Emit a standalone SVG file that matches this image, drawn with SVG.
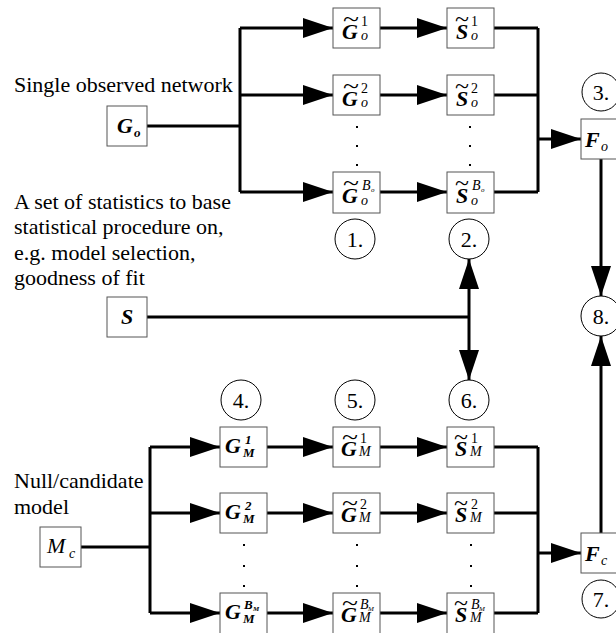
<svg xmlns="http://www.w3.org/2000/svg" width="616" height="633" viewBox="0 0 616 633">
<style>
.box{fill:#fff;stroke:#555;stroke-width:1}
.ln{fill:none;stroke:#000;stroke-width:3}
.cir{fill:#fff;stroke:#000;stroke-width:1}
.t{font-family:"Liberation Serif","Times New Roman",serif;font-size:22px;fill:#000}
.ct{font-family:"Liberation Serif","Times New Roman",serif;font-size:22px;fill:#000;text-anchor:middle}
.m{font-family:"Liberation Serif","Times New Roman",serif;font-size:22px;font-weight:bold;font-style:italic;fill:#000}
.mi{font-family:"Liberation Serif","Times New Roman",serif;font-size:22px;font-weight:normal;font-style:italic;fill:#000}
.sup{font-size:14px;font-weight:normal;font-style:normal}
.supb{font-size:13px;font-weight:bold;font-style:italic}
.sub{font-size:14px;font-weight:normal;font-style:italic}
.subb{font-size:13px;font-weight:bold;font-style:italic}
.tiny{font-size:7px;font-weight:normal;font-style:italic}
.tinyb{font-size:7px;font-weight:bold;font-style:italic}
.tl{font-size:22px;font-weight:normal;font-style:normal}
.dot{fill:#000}
</style>
<defs>
<marker id="ah" markerUnits="userSpaceOnUse" markerWidth="30" markerHeight="20" refX="30" refY="10" orient="auto">
<path d="M0,0 L30,10 L0,20 z" fill="#000"/>
</marker>
</defs>

<g id="labels">
<text class="t" x="14" y="92">Single observed network</text>
<text class="t" x="14" y="209">A set of statistics to base</text>
<text class="t" x="14" y="234">statistical procedure on,</text>
<text class="t" x="14" y="260">e.g. model selection,</text>
<text class="t" x="14" y="285">goodness of fit</text>
<text class="t" x="14" y="488">Null/candidate</text>
<text class="t" x="14" y="514">model</text>
</g>

<g id="connectors">
<path class="ln" d="M147,126 H240 M240,28 V192"/>
<path class="ln" d="M240,28 H333" marker-end="url(#ah)"/>
<path class="ln" d="M240,95 H333" marker-end="url(#ah)"/>
<path class="ln" d="M240,192 H333" marker-end="url(#ah)"/>
<path class="ln" d="M380,28 H447" marker-end="url(#ah)"/>
<path class="ln" d="M380,95 H447" marker-end="url(#ah)"/>
<path class="ln" d="M380,192 H447" marker-end="url(#ah)"/>
<path class="ln" d="M494,28 H538 M494,95 H538 M494,192 H538 M538,28 V192"/>
<path class="ln" d="M538,139 H581" stroke-width="4" marker-end="url(#ah)"/>
<path class="ln" d="M601,159 V296" marker-end="url(#ah)"/>
<path class="ln" d="M147,317 H469"/>
<path class="ln" d="M469,317 V259" marker-end="url(#ah)"/>
<path class="ln" d="M469,317 V380" marker-end="url(#ah)"/>
<path class="ln" d="M81,547 H150 M150,447 V613"/>
<path class="ln" d="M150,447 H220" marker-end="url(#ah)"/>
<path class="ln" d="M150,513 H220" marker-end="url(#ah)"/>
<path class="ln" d="M150,613 H220" marker-end="url(#ah)"/>
<path class="ln" d="M267,447 H333" marker-end="url(#ah)"/>
<path class="ln" d="M267,513 H333" marker-end="url(#ah)"/>
<path class="ln" d="M267,613 H333" marker-end="url(#ah)"/>
<path class="ln" d="M380,447 H447" marker-end="url(#ah)"/>
<path class="ln" d="M380,513 H447" marker-end="url(#ah)"/>
<path class="ln" d="M380,613 H447" marker-end="url(#ah)"/>
<path class="ln" d="M494,447 H538 M494,513 H538 M494,613 H538 M538,447 V613"/>
<path class="ln" d="M538,553 H581" stroke-width="4" marker-end="url(#ah)"/>
<path class="ln" d="M601,533 V336" marker-end="url(#ah)"/>
</g>

<g id="Go"><rect class="box" x="107" y="106" width="40" height="40"/>
<text class="m" x="117" y="133">G<tspan class="subb" x="134" y="137">o</tspan></text></g>

<g id="S"><rect class="box" x="107" y="297" width="40" height="40"/>
<text class="m" x="121" y="324">S</text></g>

<g id="Mc"><rect class="box" x="40" y="527" width="41" height="40"/>
<text class="mi" x="47" y="553">M<tspan class="sub" x="69" y="558">c</tspan></text></g>

<g id="Gt1o"><rect class="box" x="333" y="8" width="47" height="40"/>
<text class="m" x="342" y="39">G<tspan class="tl" x="343" y="26" textLength="16" lengthAdjust="spacingAndGlyphs">~</tspan><tspan class="sup" x="361" y="26">1</tspan><tspan class="sub" x="361" y="40">o</tspan></text></g>
<g id="Gt2o"><rect class="box" x="333" y="75" width="47" height="40"/>
<text class="m" x="342" y="106">G<tspan class="tl" x="343" y="93" textLength="16" lengthAdjust="spacingAndGlyphs">~</tspan><tspan class="sup" x="361" y="93">2</tspan><tspan class="sub" x="361" y="107">o</tspan></text></g>
<g id="GtBo"><rect class="box" x="333" y="172" width="47" height="41"/>
<text class="m" x="342" y="203">G<tspan class="tl" x="343" y="190" textLength="16" lengthAdjust="spacingAndGlyphs">~</tspan><tspan class="sub" x="362" y="190">B</tspan><tspan class="tiny" x="371" y="192">o</tspan><tspan class="sub" x="361" y="205">o</tspan></text></g>

<g id="St1o"><rect class="box" x="447" y="8" width="47" height="40"/>
<text class="m" x="456" y="39">S<tspan class="tl" x="455" y="26" textLength="14" lengthAdjust="spacingAndGlyphs">~</tspan><tspan class="sup" x="471" y="26">1</tspan><tspan class="sub" x="471" y="40">o</tspan></text></g>
<g id="St2o"><rect class="box" x="447" y="75" width="47" height="40"/>
<text class="m" x="456" y="106">S<tspan class="tl" x="455" y="93" textLength="14" lengthAdjust="spacingAndGlyphs">~</tspan><tspan class="sup" x="471" y="93">2</tspan><tspan class="sub" x="471" y="107">o</tspan></text></g>
<g id="StBo"><rect class="box" x="447" y="172" width="47" height="41"/>
<text class="m" x="456" y="203">S<tspan class="tl" x="455" y="190" textLength="14" lengthAdjust="spacingAndGlyphs">~</tspan><tspan class="sub" x="472" y="190">B</tspan><tspan class="tiny" x="481" y="192">o</tspan><tspan class="sub" x="471" y="205">o</tspan></text></g>

<g id="Fo"><rect class="box" x="581" y="119" width="40" height="40"/>
<text class="m" x="585" y="147">F<tspan class="sub" x="601" y="151">o</tspan></text></g>
<g id="Fc"><rect class="box" x="581" y="533" width="40" height="40"/>
<text class="m" x="585" y="561">F<tspan class="sub" x="601" y="565">c</tspan></text></g>

<g id="GM1"><rect class="box" x="220" y="427" width="47" height="40"/>
<text class="m" x="225" y="453">G<tspan class="supb" x="245" y="444">1</tspan><tspan class="subb" x="243" y="457" font-size="12">M</tspan></text></g>
<g id="GM2"><rect class="box" x="220" y="493" width="47" height="40"/>
<text class="m" x="225" y="519">G<tspan class="supb" x="245" y="510">2</tspan><tspan class="subb" x="243" y="523" font-size="12">M</tspan></text></g>
<g id="GMB"><rect class="box" x="220" y="593" width="47" height="42"/>
<text class="m" x="225" y="619">G<tspan class="supb" x="244" y="609" font-size="12">B</tspan><tspan class="tinyb" x="253" y="611">M</tspan><tspan class="subb" x="243" y="623" font-size="12">M</tspan></text></g>

<g id="GtM1"><rect class="box" x="333" y="427" width="47" height="40"/>
<text class="m" x="341" y="456">G<tspan class="tl" x="342" y="444" textLength="16" lengthAdjust="spacingAndGlyphs">~</tspan><tspan class="sup" x="360" y="443">1</tspan><tspan class="sub" x="359" y="456" font-size="12">M</tspan></text></g>
<g id="GtM2"><rect class="box" x="333" y="493" width="47" height="40"/>
<text class="m" x="341" y="522">G<tspan class="tl" x="342" y="510" textLength="16" lengthAdjust="spacingAndGlyphs">~</tspan><tspan class="sup" x="360" y="509">2</tspan><tspan class="sub" x="359" y="522" font-size="12">M</tspan></text></g>
<g id="GtMB"><rect class="box" x="333" y="593" width="47" height="42"/>
<text class="m" x="341" y="622">G<tspan class="tl" x="342" y="610" textLength="16" lengthAdjust="spacingAndGlyphs">~</tspan><tspan class="sub" x="360" y="609" font-size="12">B</tspan><tspan class="tiny" x="368" y="611">M</tspan><tspan class="sub" x="359" y="622" font-size="12">M</tspan></text></g>

<g id="StM1"><rect class="box" x="447" y="427" width="47" height="40"/>
<text class="m" x="455" y="456">S<tspan class="tl" x="454" y="444" textLength="14" lengthAdjust="spacingAndGlyphs">~</tspan><tspan class="sup" x="471" y="443">1</tspan><tspan class="sub" x="470" y="456" font-size="12">M</tspan></text></g>
<g id="StM2"><rect class="box" x="447" y="493" width="47" height="40"/>
<text class="m" x="455" y="522">S<tspan class="tl" x="454" y="510" textLength="14" lengthAdjust="spacingAndGlyphs">~</tspan><tspan class="sup" x="471" y="509">2</tspan><tspan class="sub" x="470" y="522" font-size="12">M</tspan></text></g>
<g id="StMB"><rect class="box" x="447" y="593" width="47" height="42"/>
<text class="m" x="455" y="622">S<tspan class="tl" x="454" y="610" textLength="14" lengthAdjust="spacingAndGlyphs">~</tspan><tspan class="sub" x="471" y="609" font-size="12">B</tspan><tspan class="tiny" x="479" y="611">M</tspan><tspan class="sub" x="470" y="622" font-size="12">M</tspan></text></g>

<g id="dots">
<rect class="dot" x="356" y="126" width="2" height="2"/><rect class="dot" x="356" y="145" width="2" height="2"/><rect class="dot" x="356" y="164" width="2" height="2"/>
<rect class="dot" x="469" y="126" width="2" height="2"/><rect class="dot" x="469" y="145" width="2" height="2"/><rect class="dot" x="469" y="164" width="2" height="2"/>
<rect class="dot" x="243" y="544" width="2" height="2"/><rect class="dot" x="243" y="565" width="2" height="2"/><rect class="dot" x="243" y="585" width="2" height="2"/>
<rect class="dot" x="356" y="544" width="2" height="2"/><rect class="dot" x="356" y="565" width="2" height="2"/><rect class="dot" x="356" y="585" width="2" height="2"/>
<rect class="dot" x="470" y="544" width="2" height="2"/><rect class="dot" x="470" y="565" width="2" height="2"/><rect class="dot" x="470" y="585" width="2" height="2"/>
</g>

<g id="c1"><circle class="cir" cx="355" cy="239" r="20"/><text class="ct" x="355" y="247">1.</text></g>
<g id="c2"><circle class="cir" cx="469" cy="239" r="20"/><text class="ct" x="469" y="247">2.</text></g>
<g id="c3"><circle class="cir" cx="601" cy="92" r="19"/><text class="ct" x="601" y="100">3.</text></g>
<g id="c4"><circle class="cir" cx="241" cy="400" r="20"/><text class="ct" x="241" y="408">4.</text></g>
<g id="c5"><circle class="cir" cx="355" cy="400" r="20"/><text class="ct" x="355" y="408">5.</text></g>
<g id="c6"><circle class="cir" cx="469" cy="400" r="20"/><text class="ct" x="469" y="408">6.</text></g>
<g id="c7"><circle class="cir" cx="601" cy="599" r="19"/><text class="ct" x="601" y="607">7.</text></g>
<g id="c8"><circle class="cir" cx="601" cy="316" r="20"/><text class="ct" x="601" y="324">8.</text></g>
</svg>
